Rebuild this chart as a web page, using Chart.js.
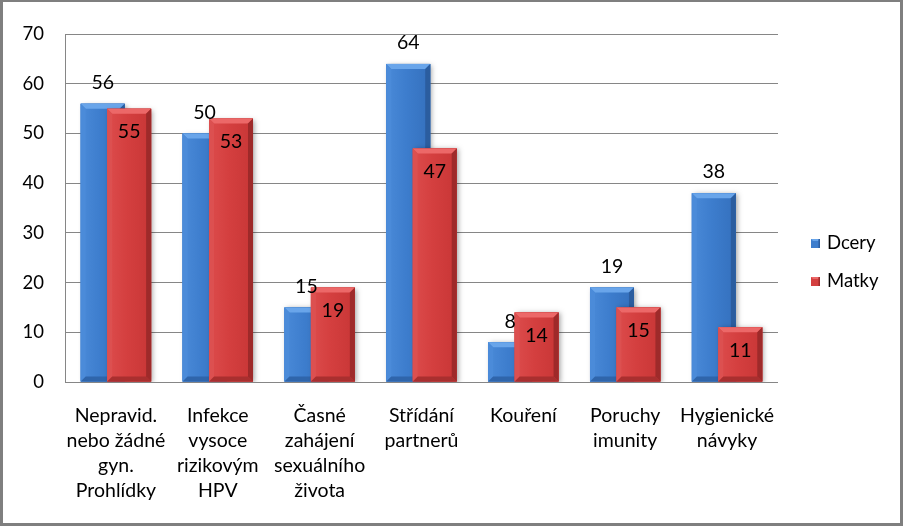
<!DOCTYPE html>
<html>
<head>
<meta charset="utf-8">
<script src="https://cdn.jsdelivr.net/npm/chart.js@4.4.1/dist/chart.umd.min.js"></script>
<style>
  html, body { margin: 0; padding: 0; background: #fff; }
  #wrap {
    position: relative; width: 903px; height: 526px; box-sizing: border-box;
    border: 3px solid #7f7f7f; border-top-width: 2px; background: #fff;
  }
</style>
</head>
<body>
<div id="wrap"><canvas id="chart"></canvas></div>
<script>
// ---- data ----
const categories = [
  ['Nepravid.', 'nebo žádné', 'gyn.', 'Prohlídky'],
  ['Infekce', 'vysoce', 'rizikovým', 'HPV'],
  ['Časné', 'zahájení', 'sexuálního', 'života'],
  ['Střídání', 'partnerů'],
  ['Kouření'],
  ['Poruchy', 'imunity'],
  ['Hygienické', 'návyky'],
];
const dcery = [56, 50, 15, 64, 8, 19, 38];
const matky = [55, 53, 19, 47, 14, 15, 11];
const seriesNames = ['Dcery', 'Matky'];
const yTicks = [0, 10, 20, 30, 40, 50, 60, 70];

const FONT = 'Lato, "DejaVu Sans", sans-serif';

// bevel palettes (Excel 2007 look)
const PAL = [
  { main: '#3d7dcd', light: '#4a8ad8', dark: '#3470bd', top: '#69a5ea', left: '#4b8bd9', right: '#2b5d9f', bottom: '#2f65ab' },
  { main: '#d43f3f', light: '#dc4c4c', dark: '#c83636', top: '#ec6868', left: '#dc5050', right: '#9e2a2a', bottom: '#a92f2f' },
];

function poly(ctx, color, pts) {
  ctx.beginPath();
  ctx.moveTo(pts[0][0], pts[0][1]);
  for (let i = 1; i < pts.length; i++) ctx.lineTo(pts[i][0], pts[i][1]);
  ctx.closePath();
  ctx.fillStyle = color;
  ctx.fill();
}

function bevelBar(ctx, el, p) {
  const { x, y, base, width } = el.getProps(['x', 'y', 'base', 'width'], true);
  const l = x - width / 2, r = x + width / 2;
  const t = Math.min(y, base), b = Math.max(y, base);
  const e = Math.min(5, (b - t) / 2);
  ctx.save();
  ctx.shadowColor = 'rgba(0,0,0,0.35)';
  ctx.shadowBlur = 5;
  ctx.shadowOffsetX = 2;
  ctx.shadowOffsetY = 1;
  ctx.fillStyle = p.main;
  ctx.fillRect(l, t, r - l, b - t);
  ctx.restore();
  const g = ctx.createLinearGradient(l, 0, r, 0);
  g.addColorStop(0, p.light);
  g.addColorStop(0.45, p.main);
  g.addColorStop(1, p.dark);
  ctx.fillStyle = g;
  ctx.fillRect(l, t, r - l, b - t);
  poly(ctx, p.top, [[l, t], [r, t], [r - e, t + e], [l + e, t + e]]);
  poly(ctx, p.left, [[l, t], [l + e, t + e], [l + e, b - e], [l, b]]);
  poly(ctx, p.right, [[r, t], [r, b], [r - e, b - e], [r - e, t + e]]);
  poly(ctx, p.bottom, [[l, b], [l + e, b - e], [r - e, b - e], [r, b]]);
}

// redraw bars with bevel, Matky on top; then value labels; then legend
const bevelPlugin = {
  id: 'bevel',
  afterDatasetsDraw(chart) {
    const ctx = chart.ctx;
    ctx.save();
    ctx.beginPath();
    ctx.rect(chart.chartArea.left, 0, chart.chartArea.right - chart.chartArea.left, chart.chartArea.bottom);
    ctx.clip();
    [0, 1].forEach(di => {
      chart.getDatasetMeta(di).data.forEach(el => bevelBar(ctx, el, PAL[di]));
    });
    ctx.restore();

    ctx.save();
    ctx.font = '19.5px ' + FONT;
    ctx.fillStyle = '#000';
    ctx.textAlign = 'center';
    ctx.textBaseline = 'middle';
    chart.getDatasetMeta(0).data.forEach((el, i) => {
      ctx.fillText(String(dcery[i]), el.x, el.y - 21);
    });
    chart.getDatasetMeta(1).data.forEach((el, i) => {
      ctx.fillText(String(matky[i]), el.x, el.y + 23);
    });
    ctx.restore();
  },
  afterDraw(chart) {
    const ctx = chart.ctx;
    const x0 = chart.chartArea.right + 33;
    const cy = chart.height / 2;
    ctx.save();
    ctx.font = '18.5px ' + FONT;
    ctx.textBaseline = 'middle';
    ctx.textAlign = 'left';
    seriesNames.forEach((name, i) => {
      const yy = cy + (i - 0.5) * 38;
      const p = PAL[i];
      ctx.fillStyle = p.main;
      ctx.fillRect(x0, yy - 4.5, 9, 9);
      poly(ctx, p.top, [[x0, yy - 4.5], [x0 + 9, yy - 4.5], [x0 + 7, yy - 2.5], [x0 + 2, yy - 2.5]]);
      ctx.fillStyle = p.right;
      ctx.fillRect(x0 + 7.5, yy - 4.5, 1.5, 9);
      ctx.fillStyle = '#000';
      ctx.fillText(name, x0 + 16, yy);
    });
    ctx.restore();
  },
};

new Chart(document.getElementById('chart'), {
  type: 'bar',
  data: {
    labels: categories,
    datasets: [
      { label: seriesNames[0], data: dcery, backgroundColor: PAL[0].main, categoryPercentage: 0.52, barPercentage: 1.66 },
      { label: seriesNames[1], data: matky, backgroundColor: PAL[1].main, categoryPercentage: 0.52, barPercentage: 1.66 },
    ],
  },
  options: {
    responsive: true,
    maintainAspectRatio: false,
    animation: false,
    layout: { padding: { top: 22, right: 122, bottom: 0, left: 0 } },
    plugins: {
      legend: { display: false },
      tooltip: { enabled: false },
    },
    scales: {
      x: {
        grid: { display: false, drawTicks: false },
        border: { display: false },
        ticks: {
          color: '#000', font: { family: FONT, size: 19.5, lineHeight: 1.28 },
          padding: 21, maxRotation: 0, autoSkip: false,
        },
        afterFit: (s) => { s.height = 141; },
      },
      y: {
        min: yTicks[0],
        max: yTicks[yTicks.length - 1],
        afterBuildTicks: (s) => { s.ticks = yTicks.map(v => ({ value: v })); },
        grid: { color: '#868686', lineWidth: 1, drawTicks: false },
        border: { display: true, color: '#868686', width: 1 },
        ticks: { color: '#000', font: { family: FONT, size: 18.5 }, padding: 21 },
        afterFit: (s) => { s.width = 62; },
      },
    },
  },
  plugins: [bevelPlugin],
});
</script>
</body>
</html>
